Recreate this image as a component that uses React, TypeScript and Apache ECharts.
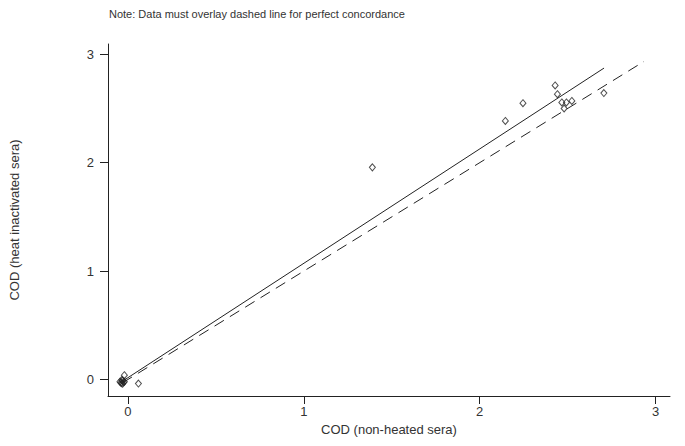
import React, { useEffect, useRef } from "react";
import * as echarts from "echarts";

const noteText = "Note: Data must overlay dashed line for perfect concordance";
const xTitle = "COD (non-heated sera)";
const yTitle = "COD (heat inactivated sera)";

const nonHeated = [
  -0.045, -0.035, -0.03, -0.03, -0.025, -0.02, -0.04, -0.035, -0.02, 0.06,
  1.39, 2.146, 2.246, 2.429, 2.442, 2.467, 2.493, 2.524, 2.48, 2.706,
];
const heatInactivated = [
  -0.02, -0.035, -0.01, -0.04, -0.025, -0.02, -0.03, -0.005, 0.04, -0.037,
  1.957, 2.385, 2.549, 2.713, 2.632, 2.556, 2.556, 2.57, 2.5, 2.642,
];

const fitX = [-0.028, 2.707];
const fitY = [-0.013, 2.873];
const identityX = [-0.03, 2.934];
const xTicks = [0, 1, 2, 3];

export default function App() {
  const ref = useRef<HTMLDivElement>(null);
  useEffect(() => {
    if (!ref.current) return;
    const chart = echarts.init(ref.current, undefined, { renderer: "svg" });
    const font = "Liberation Sans, Arial, sans-serif";
    const axisCommon = {
      type: "value",
      interval: 1,
      splitLine: { show: false },
      axisLine: { show: true, onZero: false, lineStyle: { color: "#222", width: 1 } },
      nameLocation: "middle",
      nameTextStyle: { fontFamily: font, fontSize: 13, color: "#333" },
    };
    chart.setOption({
      animation: false,
      backgroundColor: "#fff",
      title: {
        text: noteText,
        left: 104,
        top: 3,
        textStyle: { fontFamily: font, fontSize: 11, fontWeight: "normal", color: "#333" },
      },
      grid: { left: 107, right: 15, top: 44, bottom: 50 },
      xAxis: {
        ...axisCommon,
        min: -0.113,
        max: 3.082,
        name: xTitle,
        nameGap: 19,
        axisLabel: { margin: 9, fontFamily: font, fontSize: 13, color: "#333", customValues: xTicks },
        axisTick: { show: true, length: 8, lineStyle: { color: "#222" }, customValues: xTicks },
      },
      yAxis: {
        ...axisCommon,
        min: -0.152,
        max: 3.095,
        name: yTitle,
        nameGap: 87,
        axisLabel: { margin: 14, fontFamily: font, fontSize: 13, color: "#333", customValues: xTicks },
        axisTick: { show: true, length: 8, lineStyle: { color: "#222" }, customValues: xTicks },
      },
      series: [
        {
          type: "line",
          data: identityX.map((v) => [v, v]),
          showSymbol: false,
          symbol: "none",
          lineStyle: { color: "#222", width: 1, type: [11, 7] },
        },
        {
          type: "line",
          data: fitX.map((v, i) => [v, fitY[i]]),
          showSymbol: false,
          symbol: "none",
          lineStyle: { color: "#222", width: 1 },
        },
        {
          type: "scatter",
          data: nonHeated.map((v, i) => [v, heatInactivated[i]]),
          symbol: "diamond",
          symbolSize: [6, 7],
          itemStyle: { color: "rgba(255,255,255,0)", borderColor: "#222", borderWidth: 1 },
        },
      ],
    });
    return () => chart.dispose();
  }, []);
  return <div ref={ref} style={{ width: 685, height: 446, position: "absolute", left: 0, top: 0 }} />;
}
